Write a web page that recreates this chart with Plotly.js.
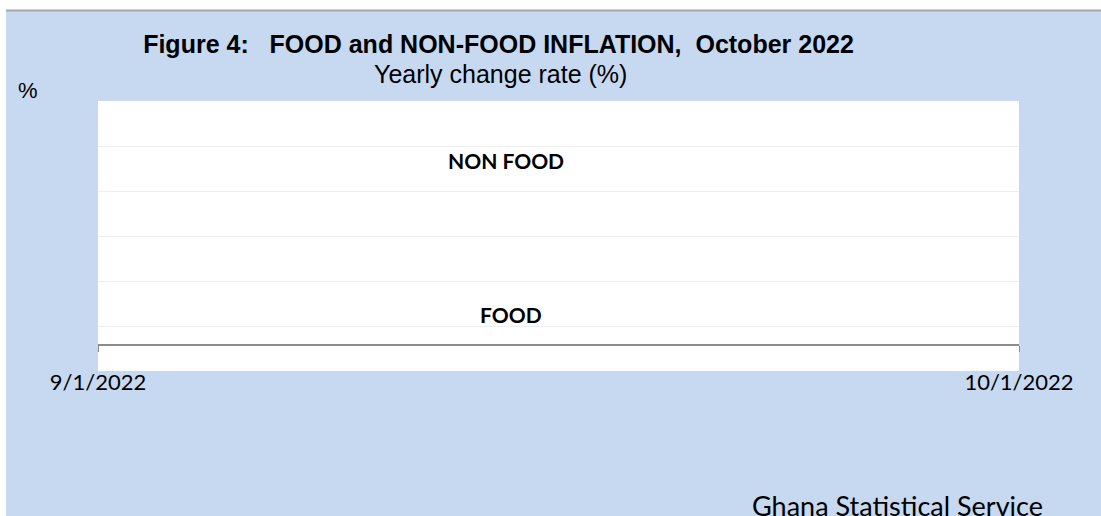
<!DOCTYPE html>
<html>
<head>
<meta charset="utf-8">
<script src="https://cdn.plot.ly/plotly-3.0.1.min.js"></script>
<style>html,body{margin:0;padding:0;background:#fff;}#chart{width:1101px;height:516px;}</style>
</head>
<body>
<div id="chart"></div>
<script>
// ---- data ----
const dates = ['2022-09-01', '2022-10-01'];
const tickLabels = ['9/1/2022', '10/1/2022'];
// No line values are visible in the reference picture, so both series are empty.
const foodInflation = [null, null];
const nonFoodInflation = [null, null];
const seriesNames = ['NON FOOD', 'FOOD'];
const titleText = 'Figure 4:\u00A0\u00A0\u00A0FOOD and NON-FOOD INFLATION,\u00A0\u00A0October 2022';
const subtitleText = 'Yearly change rate (%)';
const yUnit = '%';
const sourceText = 'Ghana Statistical Service';

const BLUE = '#c6d9f0';
const ARIAL = 'Arial, "Liberation Sans", sans-serif';
const CAL = 'Lato, "Open Sans", sans-serif';

const traces = [
  {x: dates, y: nonFoodInflation, name: seriesNames[0], type: 'scatter', mode: 'lines',
   line: {color: '#1f3864', width: 2}, showlegend: false, hoverinfo: 'skip'},
  {x: dates, y: foodInflation, name: seriesNames[1], type: 'scatter', mode: 'lines',
   line: {color: '#c00000', width: 2}, showlegend: false, hoverinfo: 'skip'}
];

const layout = {
  width: 1101, height: 516,
  margin: {l: 98, r: 82, t: 101, b: 145, pad: 0},
  paper_bgcolor: BLUE,
  plot_bgcolor: '#ffffff',
  showlegend: false,
  title: {
    text: '<b>' + titleText + '</b>',
    font: {family: ARIAL, size: 25, color: '#000'},
    xref: 'container', yref: 'container',
    x: 498.5 / 1101, xanchor: 'center',
    y: 1 - 44 / 516, yanchor: 'middle'
  },
  xaxis: {
    type: 'date',
    range: [dates[0], dates[1]],
    tickmode: 'array', tickvals: dates, ticktext: tickLabels,
    anchor: 'free', position: 0.1,
    showline: true, linecolor: '#8c8c8c', linewidth: 1.5,
    ticks: 'outside', ticklen: 6, tickcolor: '#8c8c8c', tickwidth: 1,
    ticklabelstandoff: 12,
    showgrid: false, zeroline: false,
    tickfont: {family: CAL, size: 22, color: '#000'},
    fixedrange: true
  },
  yaxis: {
    range: [0, 30], dtick: 5, tick0: 0,
    showticklabels: false, showline: false, zeroline: false,
    showgrid: true, gridcolor: '#eeeeee', gridwidth: 1,
    ticks: '', fixedrange: true
  },
  shapes: [
    {type: 'rect', xref: 'paper', yref: 'paper', x0: -0.2, x1: 1.2, y0: (371 - 10) / 270, y1: 1.6,
     fillcolor: '#ffffff', line: {width: 0}, layer: 'above'},
    {type: 'rect', xref: 'paper', yref: 'paper', x0: -0.2, x1: (6 - 98) / 921, y0: -1, y1: 1.6,
     fillcolor: '#ffffff', line: {width: 0}, layer: 'above'},
    {type: 'line', xref: 'paper', yref: 'paper', x0: (6 - 98) / 921, x1: 1.2,
     y0: (371 - 10.5) / 270, y1: (371 - 10.5) / 270,
     line: {color: '#a6a6a6', width: 2}, layer: 'above'}
  ],
  annotations: [
    {text: subtitleText, xref: 'paper', yref: 'paper', x: (500 - 98) / 921, y: (371 - 73.5) / 270,
     xanchor: 'center', yanchor: 'middle', showarrow: false, font: {family: ARIAL, size: 25, color: '#000'}},
    {text: yUnit, xref: 'paper', yref: 'paper', x: (28 - 98) / 921, y: (371 - 90) / 270,
     xanchor: 'center', yanchor: 'middle', showarrow: false, font: {family: ARIAL, size: 22, color: '#000'}},
    {text: '<b>' + seriesNames[0] + '</b>', xref: 'paper', yref: 'paper', x: (506 - 98) / 921, y: (371 - 160) / 270,
     xanchor: 'center', yanchor: 'middle', showarrow: false, font: {family: CAL, size: 21, color: '#000'}},
    {text: '<b>' + seriesNames[1] + '</b>', xref: 'paper', yref: 'paper', x: (511 - 98) / 921, y: (371 - 314.5) / 270,
     xanchor: 'center', yanchor: 'middle', showarrow: false, font: {family: CAL, size: 21, color: '#000'}},
    {text: sourceText, xref: 'paper', yref: 'paper', x: (897.5 - 98) / 921, y: (371 - 505) / 270,
     xanchor: 'center', yanchor: 'middle', showarrow: false, font: {family: CAL, size: 27, color: '#000'}}
  ]
};

Plotly.newPlot('chart', traces, layout, {displayModeBar: false, staticPlot: true});
</script>
</body>
</html>
